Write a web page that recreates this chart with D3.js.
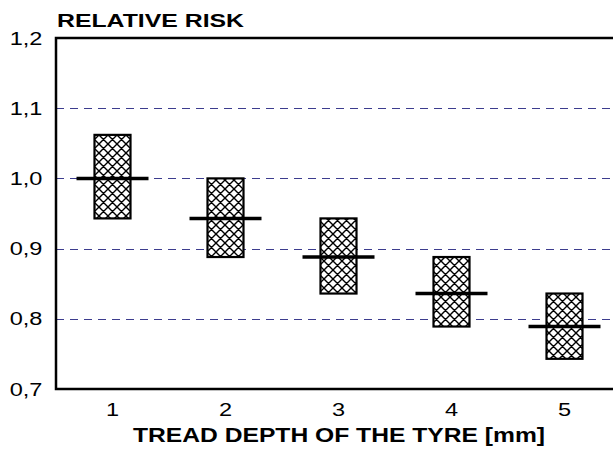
<!DOCTYPE html>
<html>
<head>
<meta charset="utf-8">
<script src="https://cdn.jsdelivr.net/npm/d3@7/dist/d3.min.js"></script>
<style>
  html, body { margin: 0; padding: 0; background: #fff; }
  svg { display: block; font-family: "Liberation Sans", Arial, sans-serif; }
</style>
</head>
<body>
<svg id="chart" width="613" height="450"></svg>
<script>
// Tread depth categories and relative risk estimates with their intervals
const depths = ["1", "2", "3", "4", "5"];
const riskMid = [1.000, 0.943, 0.888, 0.836, 0.789];
const riskLow = [0.943, 0.888, 0.836, 0.789, 0.743];
const riskHigh = [1.062, 1.000, 0.943, 0.888, 0.836];
const yTicks = [0.7, 0.8, 0.9, 1.0, 1.1, 1.2];
const gridTicks = [0.8, 0.9, 1.0, 1.1];

const svg = d3.select("#chart");
const plotLeft = 56, plotTop = 38, plotBottom = 389, plotRight = 621;
const widen = 1.24; // horizontal stretch of the lettering

const x = d3.scaleBand().domain(depths).range([plotLeft, plotRight]);
const y = d3.scaleLinear().domain([0.7, 1.2]).range([plotBottom, plotTop]);

// Cross-hatch fill for the interval boxes
const defs = svg.append("defs");
const pat = defs.append("pattern")
  .attr("id", "xhatch")
  .attr("patternUnits", "userSpaceOnUse")
  .attr("width", 9).attr("height", 9);
pat.append("rect").attr("width", 9).attr("height", 9).attr("fill", "#fff");
pat.append("path")
  .attr("d", "M0,0L9,9M0,9L9,0M-1,1L1,-1M8,10L10,8M-1,8L1,10M8,-1L10,1")
  .attr("stroke", "#000").attr("stroke-width", 1.4);

// Dashed horizontal gridlines
svg.append("g").selectAll("line").data(gridTicks).join("line")
  .attr("x1", plotLeft).attr("x2", 613)
  .attr("y1", d => Math.round(y(d)) + 0.5).attr("y2", d => Math.round(y(d)) + 0.5)
  .attr("stroke", "#3c3c8e").attr("stroke-width", 1)
  .attr("stroke-dasharray", "8,6");

// Interval boxes
const boxW = 36;
svg.append("g").selectAll("rect").data(depths).join("rect")
  .attr("x", d => x(d) + x.bandwidth() / 2 - boxW / 2)
  .attr("y", (d, i) => y(riskHigh[i]))
  .attr("width", boxW)
  .attr("height", (d, i) => y(riskLow[i]) - y(riskHigh[i]))
  .attr("fill", "url(#xhatch)")
  .attr("stroke", "#000").attr("stroke-width", 2.2);

// Point estimates
const medW = 72;
svg.append("g").selectAll("line").data(depths).join("line")
  .attr("x1", d => x(d) + x.bandwidth() / 2 - medW / 2)
  .attr("x2", d => x(d) + x.bandwidth() / 2 + medW / 2)
  .attr("y1", (d, i) => y(riskMid[i]))
  .attr("y2", (d, i) => y(riskMid[i]))
  .attr("stroke", "#000").attr("stroke-width", 3.5);

// Frame: left axis, top border and baseline
svg.append("path")
  .attr("d", `M613,${plotTop}H${plotLeft}V${plotBottom}H613`)
  .attr("fill", "none").attr("stroke", "#000").attr("stroke-width", 2.5);

// Y axis labels
const yAxis = d3.axisLeft(y).tickValues(yTicks)
  .tickFormat(d => d3.format(".1f")(d).replace(".", ","))
  .tickSize(0);
const gy = svg.append("g").attr("transform", `translate(${plotLeft},0)`).call(yAxis);
gy.select(".domain").remove();
gy.selectAll("text").attr("font-size", 19).attr("fill", "#000")
  .attr("font-family", "Liberation Sans, Arial, sans-serif")
  .attr("x", -11).attr("transform", `scale(${widen},1)`);

// X axis labels
const xAxis = d3.axisBottom(x).tickSize(0).tickPadding(14);
const gx = svg.append("g").attr("transform", `translate(0,${plotBottom})`).call(xAxis);
gx.select(".domain").remove();
gx.selectAll("text").attr("font-size", 19).attr("fill", "#000")
  .attr("font-family", "Liberation Sans, Arial, sans-serif")
  .attr("transform", `scale(${widen},1)`);

// Titles
svg.append("text").attr("x", 57).attr("y", 27)
  .attr("font-size", 18.5).attr("font-weight", "bold")
  .attr("textLength", 187).attr("lengthAdjust", "spacingAndGlyphs")
  .text("RELATIVE RISK");
svg.append("text").attr("x", 133).attr("y", 442)
  .attr("font-size", 21).attr("font-weight", "bold")
  .attr("textLength", 412).attr("lengthAdjust", "spacingAndGlyphs")
  .text("TREAD DEPTH OF THE TYRE [mm]");
</script>
</body>
</html>
